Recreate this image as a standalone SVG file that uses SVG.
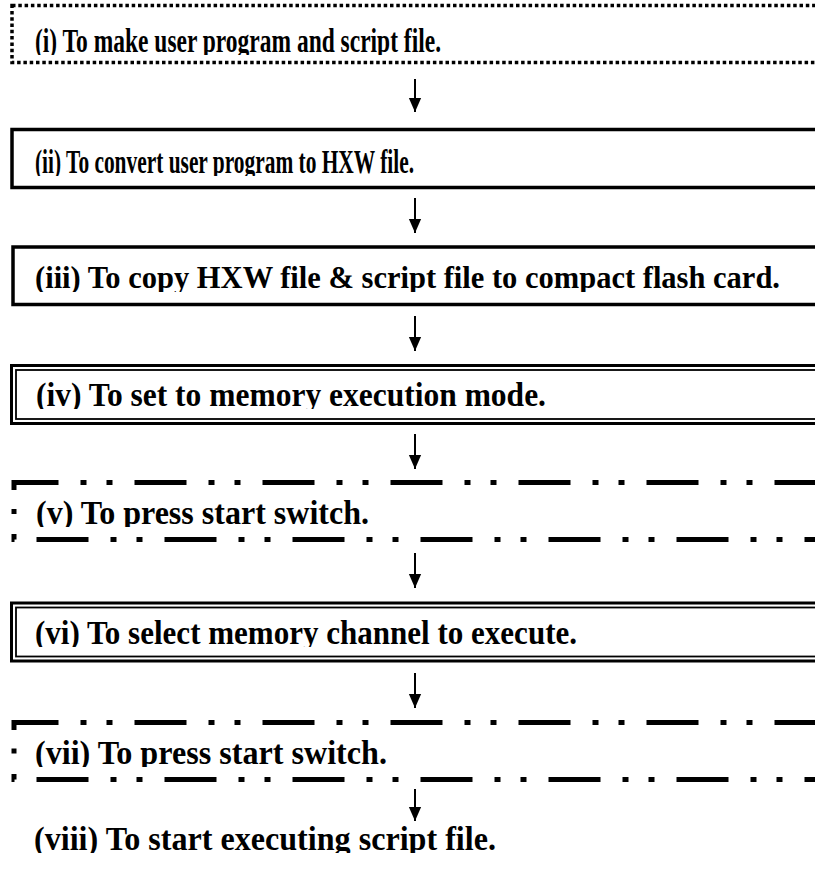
<svg xmlns="http://www.w3.org/2000/svg" width="815" height="870" viewBox="0 0 815 870">
<style>
  .t { font-family: "Liberation Serif", "Times New Roman", serif; font-weight: bold; font-size: 33px; fill: #000; }
  .t3 { font-size: 31px; }
  .dot { fill: none; stroke: #000; stroke-width: 3.5; stroke-dasharray: 3.5 2.8; }
  .solid { fill: none; stroke: #000; stroke-width: 3.5; }
  .dbl-out { fill: none; stroke: #000; stroke-width: 3; }
  .dbl-in { fill: none; stroke: #000; stroke-width: 1.8; }
  .ddd { fill: none; stroke: #000; stroke-width: 5; stroke-dasharray: 52 22 6 20 6 22; }
  .ddd-b { stroke-dashoffset: 100; }
  .arrow { stroke: #000; stroke-width: 2; fill: none; }
</style>
<defs>
  <marker id="ah" markerWidth="14" markerHeight="16" refX="16" refY="7" orient="auto" markerUnits="userSpaceOnUse" viewBox="0 0 16 14">
    <path d="M0,0 L16,7 L0,14 Z" fill="#000"/>
  </marker>
  <clipPath id="c1"><rect x="0" y="0" width="815" height="55"/></clipPath>
  <clipPath id="c2"><rect x="0" y="120" width="815" height="56"/></clipPath>
  <clipPath id="c3"><rect x="0" y="240" width="815" height="52"/></clipPath>
  <clipPath id="c4"><rect x="0" y="360" width="815" height="49"/></clipPath>
  <clipPath id="c5"><rect x="0" y="490" width="815" height="37"/></clipPath>
  <clipPath id="c6"><rect x="0" y="607" width="815" height="40"/></clipPath>
  <clipPath id="c7"><rect x="0" y="729" width="815" height="38"/></clipPath>
  <clipPath id="c8"><rect x="0" y="822" width="815" height="31"/></clipPath>
</defs>

<g id="step1">
  <rect class="dot" x="12" y="5.5" width="820" height="57"/>
  <text class="t" x="35" y="52" textLength="406" lengthAdjust="spacingAndGlyphs" clip-path="url(#c1)">(i) To make user program and script file.</text>
</g>

<g id="step2">
  <rect class="solid" x="12" y="129.5" width="820" height="58"/>
  <text class="t" x="35" y="173" textLength="379" lengthAdjust="spacingAndGlyphs" clip-path="url(#c2)">(ii) To convert user program to HXW file.</text>
</g>

<g id="step3">
  <rect class="solid" x="13" y="247" width="820" height="57.5"/>
  <text class="t t3" x="35" y="288" textLength="745" lengthAdjust="spacingAndGlyphs" clip-path="url(#c3)">(iii) To copy HXW file &amp; script file to compact flash card.</text>
</g>

<g id="step4">
  <rect class="dbl-out" x="11.5" y="365.5" width="820" height="58"/>
  <rect class="dbl-in" x="16" y="370" width="820" height="49"/>
  <text class="t" x="36" y="406" textLength="510" lengthAdjust="spacingAndGlyphs" clip-path="url(#c4)">(iv) To set to memory execution mode.</text>
</g>

<g id="step5">
  <path class="ddd" d="M14,490 V482.5 H815"/>
  <path class="ddd ddd-b" d="M14,534 V539.5 H815"/>
  <rect x="11.5" y="509" width="5" height="5" fill="#000"/>
  <text class="t" x="36" y="524" textLength="333" lengthAdjust="spacingAndGlyphs" clip-path="url(#c5)">(v) To press start switch.</text>
</g>

<g id="step6">
  <rect class="dbl-out" x="11.5" y="603" width="820" height="58"/>
  <rect class="dbl-in" x="16" y="607.5" width="820" height="49"/>
  <text class="t" x="35" y="644" textLength="542" lengthAdjust="spacingAndGlyphs" clip-path="url(#c6)">(vi) To select memory channel to execute.</text>
</g>

<g id="step7">
  <path class="ddd" d="M14,730 V722.5 H815"/>
  <path class="ddd ddd-b" d="M14,774 V779.5 H815"/>
  <rect x="11.5" y="748.5" width="5" height="5" fill="#000"/>
  <text class="t" x="35" y="764" textLength="352" lengthAdjust="spacingAndGlyphs" clip-path="url(#c7)">(vii) To press start switch.</text>
</g>

<g id="step8">
  <text class="t" x="34" y="850" textLength="462" lengthAdjust="spacingAndGlyphs" clip-path="url(#c8)">(viii) To start executing script file.</text>
</g>

<g id="connectors">
  <line class="arrow" x1="415" y1="79" x2="415" y2="112" marker-end="url(#ah)"/>
  <line class="arrow" x1="415" y1="198" x2="415" y2="233" marker-end="url(#ah)"/>
  <line class="arrow" x1="415" y1="316" x2="415" y2="351" marker-end="url(#ah)"/>
  <line class="arrow" x1="415" y1="434" x2="415" y2="469" marker-end="url(#ah)"/>
  <line class="arrow" x1="415" y1="553" x2="415" y2="588" marker-end="url(#ah)"/>
  <line class="arrow" x1="415" y1="673" x2="415" y2="708" marker-end="url(#ah)"/>
  <line class="arrow" x1="415" y1="789" x2="415" y2="821" marker-end="url(#ah)"/>
</g>
</svg>
